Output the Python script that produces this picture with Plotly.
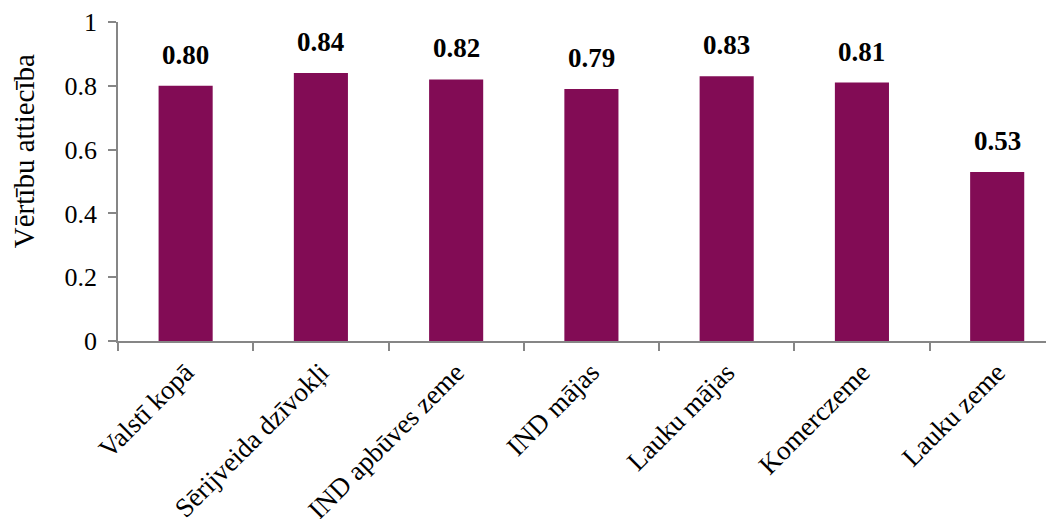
import plotly.graph_objects as go

categories = ["Valstī kopā", "Sērijveida dzīvokļi", "IND apbūves zeme", "IND mājas",
              "Lauku mājas", "Komerczeme", "Lauku zeme"]
values = [0.80, 0.84, 0.82, 0.79, 0.83, 0.81, 0.53]
y_ticks = [0, 0.2, 0.4, 0.6, 0.8, 1]
y_tick_labels = ["0", "0.2", "0.4", "0.6", "0.8", "1"]
y_title = "Vērtību attiecība"

FONT = "Liberation Serif"
BAR = "#820C55"
AXIS = "#868686"

fig = go.Figure()
fig.add_trace(go.Bar(x=categories, y=values, marker=dict(color=BAR, line=dict(width=0)),
                     width=0.4, hoverinfo="skip"))

for c, v in zip(categories, values):
    fig.add_annotation(x=c, y=v, text="<b>%.2f</b>" % v, showarrow=False,
                       yanchor="bottom", yshift=14,
                       font=dict(family=FONT, size=27, color="black"))

# y-axis title (placed like the reference, above the axis centre)
fig.add_annotation(x=0, y=0.595, xref="paper", yref="paper", text=y_title,
                   textangle=-90, showarrow=False, xanchor="center", yanchor="middle",
                   xshift=-94, font=dict(family=FONT, size=29, color="black"))

fig.update_layout(
    width=1046, height=511,
    margin=dict(l=110, r=0, t=14, b=178, pad=0),
    paper_bgcolor="white", plot_bgcolor="white",
    showlegend=False,
    font=dict(family=FONT, size=26, color="black"),
    bargap=0.6,
)
fig.update_xaxes(
    range=[-0.5, 6.42], showline=True, linecolor=AXIS, linewidth=1.5,
    ticks="outside", tickson="boundaries", ticklen=8, tickcolor=AXIS, tickwidth=1.5,
    tickangle=-45, tickfont=dict(family=FONT, size=27), showgrid=False,
    automargin=False, ticklabelstandoff=3,
)
fig.update_yaxes(
    range=[0, 1], tickvals=y_ticks, ticktext=y_tick_labels,
    showline=True, linecolor=AXIS, linewidth=1.5,
    ticks="outside", ticklen=8, tickcolor=AXIS, tickwidth=1.5,
    showgrid=False, zeroline=False, automargin=False,
    tickfont=dict(family=FONT, size=26), ticklabelstandoff=6,
)

fig.write_html("out.html")
